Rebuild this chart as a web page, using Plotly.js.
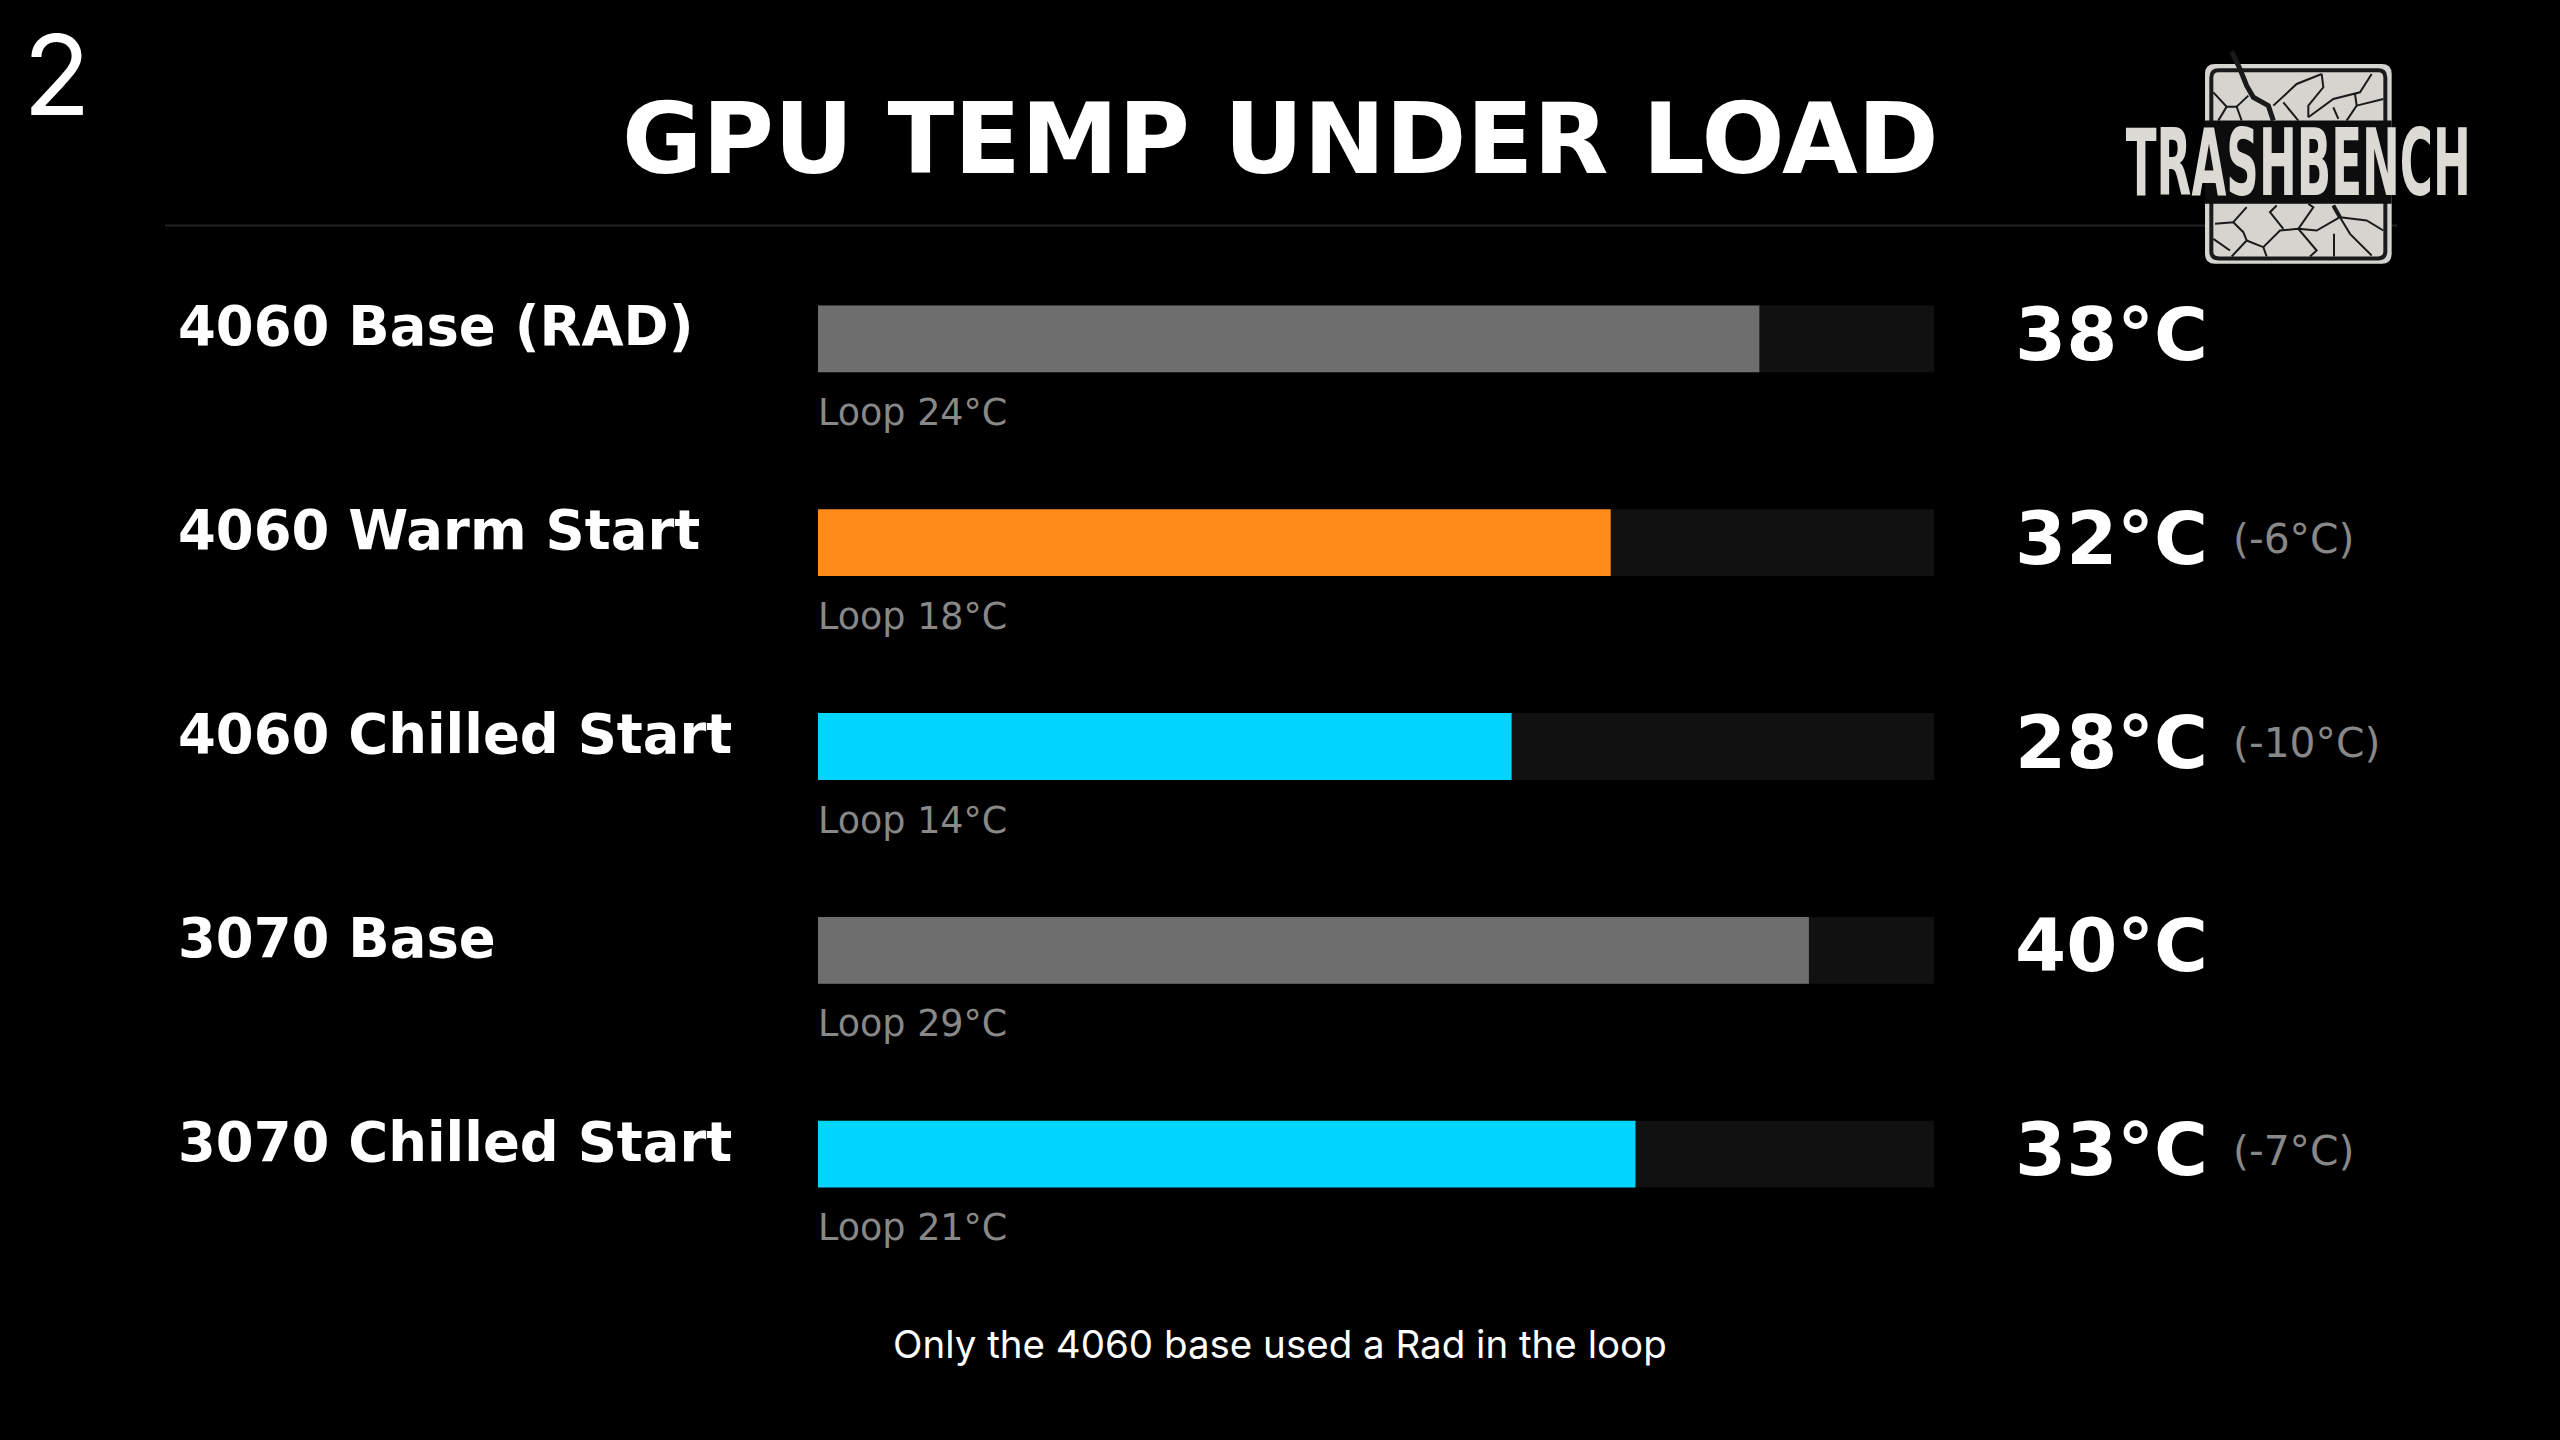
<!DOCTYPE html>
<html><head><meta charset="utf-8">
<script src="https://cdn.plot.ly/plotly-3.0.1.min.js"></script>
<style>html,body{margin:0;padding:0;background:#000;overflow:hidden}#c{width:2560px;height:1440px}</style>
</head><body><div id="c"></div>
<script>
const categories=["4060 Base (RAD)","4060 Warm Start","4060 Chilled Start","3070 Base","3070 Chilled Start"];
const gpuTemp=[38,32,28,40,33];
const loopTemp=[24,18,14,29,21];
const deltaTemp=[null,-6,-10,null,-7];
const barColors=["#6e6e6e","#ff8c1a","#00d4ff","#6e6e6e","#00d4ff"];
const scaleMax=45.05;
const W=2560,H=1440,L=818,R=1934,T=236.5,B=1256.5;
const px=x=>(x-L)/(R-L), py=y=>1-(y-T)/(B-T);
const DJ='"DejaVu Sans"';
const ann=[];
function pageText(text,x,y,size,color,family,anchor,weight){
  ann.push({text,xref:'paper',yref:'paper',x:px(x),y:py(y),xanchor:anchor||'center',yanchor:'middle',showarrow:false,
    font:{size,color,family,weight:weight||400},borderpad:0,captureevents:false});
}
function rowText(text,i,x,shift,size,color,weight){
  ann.push({text,xref:'paper',yref:'y',x:px(x),y:categories[i],yshift:shift,xanchor:'left',yanchor:'middle',showarrow:false,
    font:{size,color,family:DJ,weight},borderpad:0});
}
categories.forEach((c,i)=>{
  rowText(c,i,177,12,54.4,'#ffffff',700);
  rowText('Loop '+loopTemp[i]+'°C',i,817,-73.5,36.5,'#888888',400);
  rowText(gpuTemp[i]+'°C',i,2014,4.5,73.5,'#ffffff',700);
  if(deltaTemp[i]!==null) rowText('('+deltaTemp[i]+'°C)',i,2232,3.5,40.8,'#888888',400);
});
pageText('GPU TEMP UNDER LOAD',1280,138,97.8,'#ffffff',DJ,'center',700);
pageText('2',57,74,111,'#ffffff','Inter','center',400);
pageText('Only the 4060 base used a Rad in the loop',1280,1345,38.5,'#ffffff','Inter','center',400);
pageText('TRASHBENCH',2298,163,92,'#dcdad5',DJ,'center',700);

// logo artwork: zoom-space polylines mapped to page pixels
const lx=x=>px(2050+x/3), ly=y=>py(30+y/3);
const shapes=[];
function paperPath(d,fill,lineColor,lw){shapes.push({type:'path',xref:'paper',yref:'paper',path:d,fillcolor:fill,line:{color:lineColor,width:lw||0},layer:'below'});}
function rr(x0,y0,x1,y1,r){
  const X=v=>lx(v),Y=v=>ly(v);
  return `M${X(x0+r)},${Y(y0)}L${X(x1-r)},${Y(y0)}Q${X(x1)},${Y(y0)} ${X(x1)},${Y(y0+r)}L${X(x1)},${Y(y1-r)}Q${X(x1)},${Y(y1)} ${X(x1-r)},${Y(y1)}L${X(x0+r)},${Y(y1)}Q${X(x0)},${Y(y1)} ${X(x0)},${Y(y1-r)}L${X(x0)},${Y(y0+r)}Q${X(x0)},${Y(y0)} ${X(x0+r)},${Y(y0)}Z`;
}
function crack(pts,w){paperPath('M'+pts.map(p=>lx(p[0])+','+ly(p[1])).join('L'),'rgba(0,0,0,0)','#1a1a1a',w);}
// header rule
shapes.push({type:'line',xref:'paper',yref:'paper',x0:px(165),x1:px(2397),y0:py(225),y1:py(225),line:{color:'#222222',width:2},layer:'below'});
paperPath(rr(465,100,1025,700,30),'#d6d4cf','#d6d4cf',0);
paperPath(rr(478,113,1012,690,28),'#1a1a1a','#1a1a1a',0);
paperPath(rr(490,125,1000,678,16),'#d6d4cf','#d6d4cf',0);
paperPath(`M${lx(465)},${ly(270)}L${lx(1025)},${ly(270)}L${lx(1025)},${ly(520)}L${lx(465)},${ly(520)}Z`,'#0d0d0d','#0d0d0d',0);
crack([[545,62],[570,115],[590,165],[610,200],[655,225],[670,270]],5);
[[[490,185],[530,228],[560,228],[575,270]],[[505,270],[530,228]],[[560,228],[595,195]],
 [[670,225],[740,160],[815,130]],[[815,130],[820,170],[775,225],[775,260]],[[775,260],[850,205],[930,185],[965,130]],
 [[915,190],[920,225],[890,270]],[[920,225],[1000,205]],[[700,215],[745,270]],[[850,230],[865,265]],
 [[495,580],[550,575],[580,605],[590,630],[545,678]],[[550,575],[590,530]],[[590,630],[640,650],[650,678]],
 [[640,650],[690,600],[745,595],[800,660],[780,678]],[[680,525],[660,545],[700,595]],[[745,595],[790,530],[775,520]],
 [[745,595],[800,600],[870,560],[850,525]],[[870,560],[900,610],[965,675]],[[870,560],[950,570],[1000,600]],
 [[852,610],[852,678]],[[490,625],[540,660]]].forEach(p=>crack(p,2));
crack([[850,525],[870,560]],4);

const traces=[
 {type:'bar',orientation:'h',y:categories,x:categories.map(()=>scaleMax),width:0.328,marker:{color:'#111111',line:{width:0}},hoverinfo:'skip',showlegend:false},
 {type:'bar',orientation:'h',y:categories,x:gpuTemp,width:0.328,marker:{color:barColors,line:{width:0}},showlegend:false}
];
const layout={width:W,height:H,paper_bgcolor:'#000',plot_bgcolor:'#000',barmode:'overlay',showlegend:false,
 margin:{l:L,r:W-R,t:T,b:H-B,pad:0},
 xaxis:{range:[0,scaleMax],visible:false,fixedrange:true},
 yaxis:{type:'category',categoryorder:'array',categoryarray:categories,range:[4.5,-0.5],visible:false,fixedrange:true},
 annotations:ann,shapes};
Plotly.newPlot('c',traces,layout,{staticPlot:true,displayModeBar:false}).then(gd=>{
  // narrow the logo wordmark to its condensed width, keeping it real text
  gd.querySelectorAll('text.annotation-text').forEach(t=>{
    if(t.textContent!=='TRASHBENCH')return;
    const b=t.getBBox(),cx=b.x+b.width/2,s=345/b.width;
    t.setAttribute('transform',`translate(${cx},0) scale(${s},1) translate(${-cx},0)`);
  });
});
</script></body></html>
